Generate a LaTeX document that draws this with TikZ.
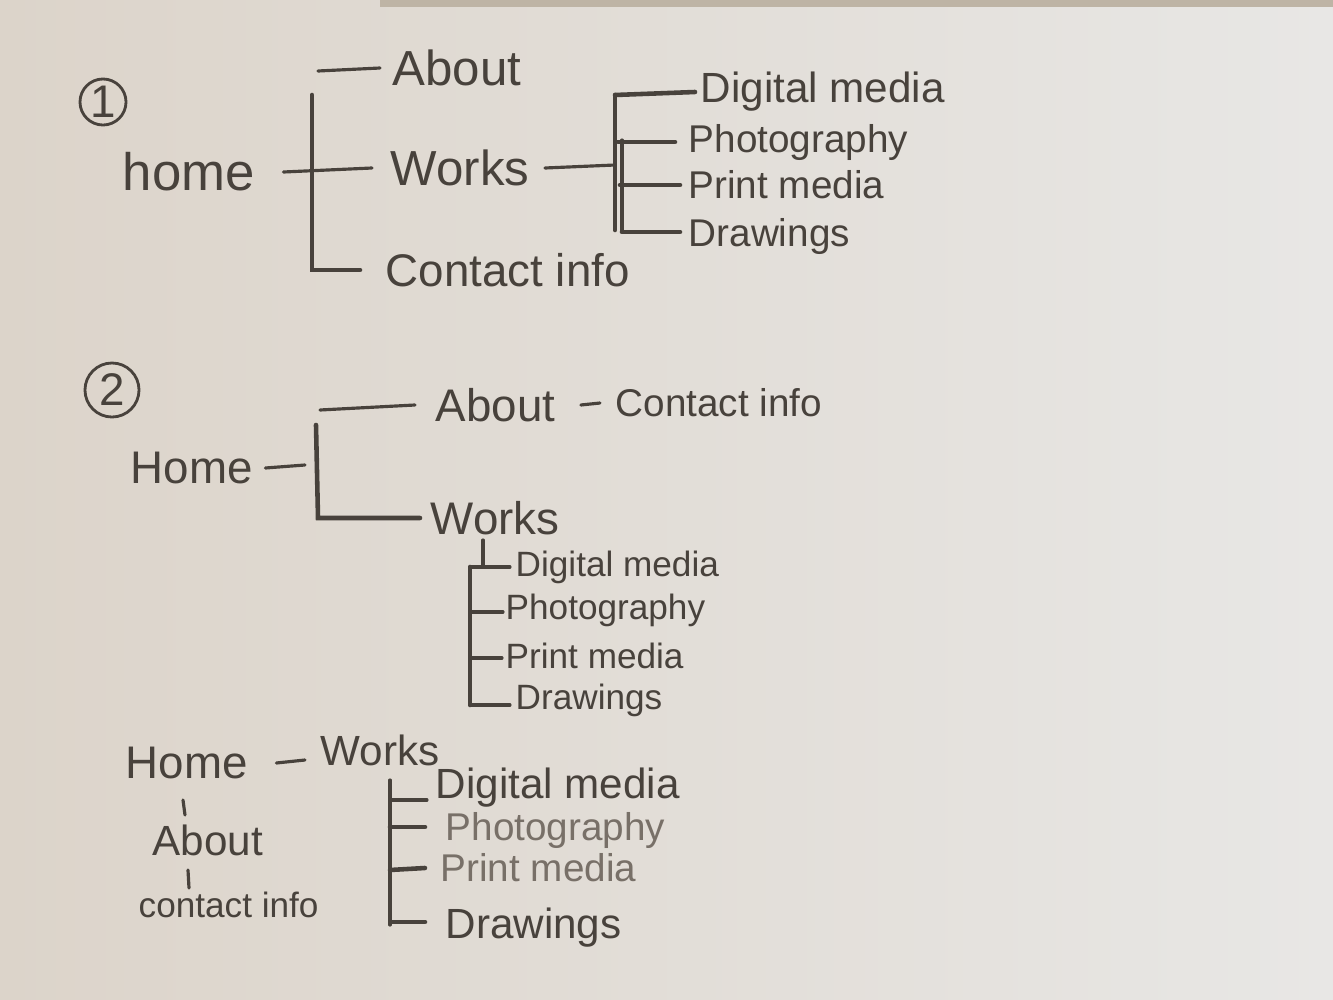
\documentclass[tikz,border=0pt]{standalone}
\usepackage{fontspec}
\setmainfont{Liberation Sans}
\definecolor{pen}{RGB}{72,66,60}
\definecolor{penlight}{RGB}{120,112,104}
\definecolor{paperL}{RGB}{220,212,202}
\definecolor{paperR}{RGB}{232,231,229}
\definecolor{strip}{RGB}{190,180,165}
\tikzset{
  lbl/.style={text=pen, inner sep=0pt, anchor=west},
  fA/.style={font=\fontsize{15}{18}\selectfont},
  fB/.style={font=\fontsize{14}{17}\selectfont},
  fC/.style={font=\fontsize{13}{16}\selectfont},
  fD/.style={font=\fontsize{12}{14}\selectfont},
  fE/.style={font=\fontsize{11}{13}\selectfont},
  fF/.style={font=\fontsize{10}{12}\selectfont},
  ln/.style={draw=pen, line width=0.9pt, line cap=round},
  bar/.style={draw=pen, line width=1.3pt, line cap=round},
  num/.style={circle, draw=pen, line width=0.8pt, text=pen, inner sep=0pt, font=\fontsize{13}{15}\selectfont},
}
\begin{document}
\begin{tikzpicture}[x=0.01cm, y=-0.01cm]
\useasboundingbox (0,0) rectangle (1333,1000);
\fill[left color=paperL, right color=paperR] (0,0) rectangle (1333,1000);
\fill[strip] (380,0) rectangle (1333,7);

% ---------- section 1 ----------
\node[num, minimum size=0.46cm] (c1) at (103,102) {1};
\node[lbl, fA] (home1) at (122,172) {home};
\node[lbl, fB] (about1) at (392,68) {About};
\node[lbl, fB] (works1) at (390,168) {Works};
\node[lbl, fC] (contact1) at (385,270) {Contact info};
\node[lbl, fD] (dig1) at (700,92) {Digital media};
\node[lbl, fE] (pho1) at (688,142) {Photography};
\node[lbl, fE] (pri1) at (688,185) {Print media};
\node[lbl, fE] (dra1) at (688,236) {Drawings};

\coordinate (b1t) at (312,95);
\coordinate (b1b) at (312,270);
\coordinate (a1s) at (318,71);
\draw[ln] (a1s) -- ([xshift=-0.12cm]about1.west);
\draw[ln] ([xshift=0.28cm]home1.east) -- ([xshift=-0.18cm]works1.west);
\draw[bar] (b1t) -- (b1b) -- ([xshift=-0.25cm]contact1.west);

\coordinate (b2t) at (615,95);
\coordinate (b2b) at (622,232);
\draw[ln] ([xshift=0.15cm]works1.east) -- (615,165);
\draw[bar] (b2t) -- (615,230);
\draw[ln] (622,140) -- (b2b);
\draw[bar] (b2t) -- ([xshift=-0.05cm]dig1.west);
\draw[bar] (618,142) -- ([xshift=-0.13cm]pho1.west);
\draw[bar] (620,185) -- ([xshift=-0.08cm]pri1.west);
\draw[bar] (b2b) -- ([xshift=-0.08cm]dra1.west |- b2b);

% ---------- section 2 ----------
\node[num, minimum size=0.54cm] (c2) at (112,390) {2};
\node[lbl, fC] (home2) at (130,468) {Home};
\node[lbl, fC] (about2) at (435,405) {About};
\node[lbl, fE] (contact2) at (615,403) {Contact info};
\node[lbl, fC] (works2) at (430,518) {Works};
\node[lbl, fF] (dig2) at (515,567) {Digital media};
\node[lbl, fF] (pho2) at (505,610) {Photography};
\node[lbl, fF] (pri2) at (505,656) {Print media};
\node[lbl, fF] (dra2) at (515,700) {Drawings};

\draw[ln] (320,410) -- ([xshift=-0.2cm]about2.west);
\draw[ln] ([xshift=0.25cm]about2.east) -- ([xshift=-0.15cm]contact2.west);
\coordinate (b3t) at (316,425);
\coordinate (b3b) at (318,518);
\draw[ln] ([xshift=0.12cm]home2.east) -- (305,465);
\draw[bar] (b3t) -- (b3b) -- ([xshift=-0.1cm]works2.west |- b3b);

\coordinate (w2s) at (483,540);
\coordinate (b4t) at (470,567);
\coordinate (b4b) at (470,705);
\draw[ln] (w2s) -- (483,567);
\draw[bar] (b4t) -- (b4b);
\draw[ln] (b4t) -- ([xshift=-0.05cm]dig2.west);
\draw[ln] (472,612) -- ([xshift=-0.02cm]pho2.west |- 0,612);
\draw[ln] (472,658) -- ([xshift=-0.03cm]pri2.west |- 0,658);
\draw[ln] (b4b) -- ([xshift=-0.05cm]dra2.west |- b4b);

% ---------- section 3 ----------
\node[lbl, fC] (home3) at (125,763) {Home};
\node[lbl, fD] (works3) at (320,750) {Works};
\node[lbl, fD] (about3) at (152,840) {About};
\node[lbl, fF] (contact3) at (138,905) {contact info};
\node[lbl, fD] (dig3) at (435,788) {Digital media};
\node[lbl, fE, text=penlight] (pho3) at (445,830) {Photography};
\node[lbl, fE, text=penlight] (pri3) at (440,868) {Print media};
\node[lbl, fD] (dra3) at (445,928) {Drawings};

\draw[ln] ([xshift=0.28cm]home3.east) -- ([xshift=-0.15cm]works3.west |- 0,760);
\draw[ln] (183,800) -- (185,815);
\draw[ln] (188,870) -- (189,888);
\coordinate (b5t) at (390,780);
\coordinate (b5b) at (390,925);
\draw[ln] (b5t) -- (b5b);
\draw[ln] (392,800) -- ([xshift=-0.08cm]dig3.west |- 0,800);
\draw[bar] (390,827) -- ([xshift=-0.2cm]pho3.west |- 0,827);
\draw[bar] (390,870) -- ([xshift=-0.15cm]pri3.west);
\draw[bar] (392,922) -- ([xshift=-0.2cm]dra3.west |- 0,922);
\end{tikzpicture}
\end{document}
